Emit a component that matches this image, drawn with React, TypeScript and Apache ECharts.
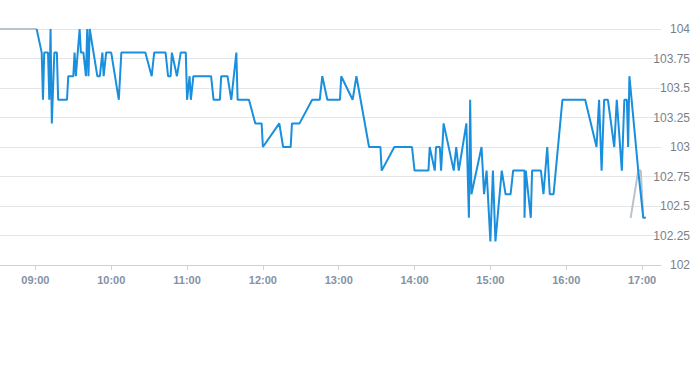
import React, { useEffect, useRef } from "react";
import * as echarts from "echarts";

const blueTimes = [
  "09:01", "09:05", "09:06", "09:07", "09:10", "09:11", "09:12", "09:13", "09:15", "09:17",
  "09:18", "09:25", "09:26", "09:30", "09:31", "09:32", "09:35", "09:36", "09:38", "09:40",
  "09:41", "09:42", "09:43", "09:49", "09:51", "09:53", "09:54", "09:56", "10:00", "10:06",
  "10:08", "10:27", "10:32", "10:34", "10:43", "10:45", "10:47", "10:48", "10:52", "10:55",
  "10:59", "11:00", "11:02", "11:03", "11:05", "11:19", "11:21", "11:26", "11:27", "11:32",
  "11:35", "11:39", "11:40", "11:49", "11:54", "11:59", "12:00", "12:13", "12:16", "12:22",
  "12:23", "12:29", "12:39", "12:45", "12:47", "12:51", "13:01", "13:02", "13:11", "13:14",
  "13:24", "13:33", "13:34", "13:44", "13:58", "14:00", "14:11", "14:12", "14:16", "14:17",
  "14:20", "14:21", "14:23", "14:31", "14:33", "14:35", "14:41", "14:43", "14:44", "14:45",
  "14:53", "14:55", "14:57", "15:00", "15:02", "15:04", "15:09", "15:12", "15:16", "15:18",
  "15:27", "15:27", "15:28", "15:32", "15:33", "15:40", "15:42", "15:45", "15:47", "15:50",
  "15:57", "16:15", "16:24", "16:26", "16:28", "16:30", "16:33", "16:38", "16:40", "16:44",
  "16:46", "16:48", "16:49", "16:50", "16:57", "17:01", "17:03",
];
const blueValues = [
  104, 103.8, 103.4, 103.8, 103.8, 103.4, 104, 103.2, 103.8, 103.8,
  103.4, 103.4, 103.6, 103.6, 103.8, 103.6, 104, 103.8, 103.8, 103.6,
  104, 103.6, 104, 103.6, 103.6, 103.8, 103.6, 103.8, 103.8, 103.4,
  103.8, 103.8, 103.6, 103.8, 103.8, 103.6, 103.6, 103.8, 103.6, 103.8,
  103.8, 103.4, 103.6, 103.4, 103.6, 103.6, 103.4, 103.4, 103.6, 103.6,
  103.4, 103.8, 103.4, 103.4, 103.2, 103.2, 103.0, 103.2, 103.0, 103.0,
  103.2, 103.2, 103.4, 103.4, 103.6, 103.4, 103.4, 103.6, 103.4, 103.6,
  103.0, 103.0, 102.8, 103.0, 103.0, 102.8, 102.8, 103.0, 102.8, 103.0,
  103.0, 102.8, 103.2, 102.8, 103.0, 102.8, 103.2, 102.4, 103.4, 102.6,
  103.0, 102.6, 102.8, 102.2, 102.8, 102.2, 102.8, 102.6, 102.6, 102.8,
  102.8, 102.4, 102.8, 102.4, 102.8, 102.8, 102.6, 103.0, 102.6, 102.6,
  103.4, 103.4, 103.0, 103.4, 102.8, 103.4, 103.4, 103.0, 103.4, 102.8,
  103.4, 103.4, 103.0, 103.6, 102.8, 102.4, 102.4,
];

const preTimes = ["08:32", "09:01"];
const preValues = [104, 104];
const postTimes = ["16:51", "16:57", "16:59", "17:01"];
const postValues = [102.4, 102.8, 102.8, 102.4];

const axisMin = "08:32";
const axisMax = "17:15";
const yTicks = [102, 102.25, 102.5, 102.75, 103, 103.25, 103.5, 103.75, 104];

const toTs = (t: string) => {
  const [h, m] = t.split(":").map(Number);
  return new Date(2024, 0, 2, h, m, 0).getTime();
};
const pairs = (ts: string[], vs: number[]) => ts.map((t, i) => [toTs(t), vs[i]]);

export default function App() {
  const ref = useRef<HTMLDivElement>(null);
  useEffect(() => {
    if (!ref.current) return;
    const chart = echarts.init(ref.current, undefined, { renderer: "svg" });
    const grayStyle = { color: "#b9c3cc", width: 2 };
    chart.setOption({
      animation: false,
      grid: { left: 0, right: 30, top: 29, bottom: 100, containLabel: false },
      xAxis: {
        type: "time",
        min: toTs(axisMin),
        max: toTs(axisMax),
        minInterval: 3600 * 1000,
        maxInterval: 3600 * 1000,
        splitLine: { show: false },
        axisLine: { lineStyle: { color: "#cfd3d8" } },
        axisTick: { show: true, lineStyle: { color: "#cfd3d8" }, length: 5 },
        axisLabel: {
          color: "#8392a5",
          fontSize: 11,
          fontWeight: "bold",
          margin: 9,
          formatter: (v: number) => {
            const d = new Date(v);
            return String(d.getHours()).padStart(2, "0") + ":" + String(d.getMinutes()).padStart(2, "0");
          },
          hideOverlap: true,
        },
      },
      yAxis: {
        type: "value",
        position: "right",
        min: yTicks[0],
        max: yTicks[yTicks.length - 1],
        interval: 0.25,
        axisLine: { show: false },
        axisTick: { show: false },
        splitLine: { lineStyle: { color: "#e3e6e9" } },
        axisLabel: {
          color: "#7a7f87",
          fontSize: 12,
          align: "right",
          margin: 29,
          formatter: (v: number) => String(Math.round(v * 100) / 100),
        },
      },
      series: [
        {
          type: "line",
          data: pairs(preTimes, preValues),
          showSymbol: false,
          lineStyle: grayStyle,
          z: 1,
        },
        {
          type: "line",
          data: pairs(postTimes, postValues),
          showSymbol: false,
          lineStyle: grayStyle,
          z: 1,
        },
        {
          type: "line",
          data: pairs(blueTimes, blueValues),
          showSymbol: false,
          lineStyle: { color: "#1a8fdd", width: 2 },
          z: 2,
        },
      ],
    });
    return () => chart.dispose();
  }, []);
  return (
    <div
      ref={ref}
      style={{ position: "fixed", left: 0, top: 0, width: 693, height: 365, background: "#fff" }}
    />
  );
}
